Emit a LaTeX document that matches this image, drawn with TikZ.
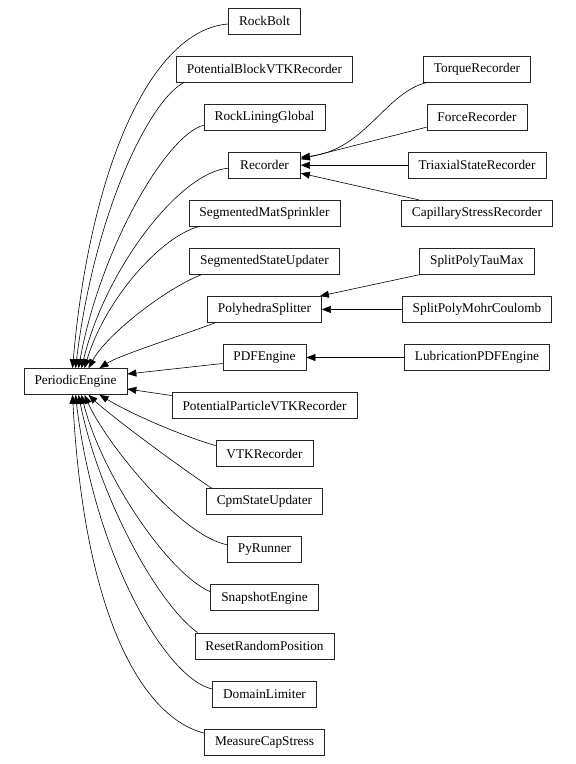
\documentclass[tikz,border=0pt]{standalone}
\usepackage{fontspec}
\setmainfont{Liberation Serif}
\usetikzlibrary{arrows.meta}
\begin{document}
\begin{tikzpicture}[x=1pt,y=-1pt,
  cls/.style={draw=black!85, line width=0.7pt, minimum height=26pt, minimum width=72pt,
              inner xsep=10.5pt, inner ysep=0pt, font=\fontsize{13.3}{15}\selectfont},
  edge/.style={draw, line width=0.6pt, -{Triangle[length=9pt,width=7pt]}}]
\useasboundingbox (0,0) rectangle (576,764);
% main column
\node[cls] (rb)    at (264.5,21)     {RockBolt};
\node[cls] (pbvtk) at (264.5,69.07)  {PotentialBlockVTKRecorder};
\node[cls] (rl)    at (264.5,117.14) {RockLiningGlobal};
\node[cls] (rec)   at (264.5,165.21) {Recorder};
\node[cls] (sm)    at (264.5,213.28) {SegmentedMatSprinkler};
\node[cls] (ss)    at (264.5,261.35) {SegmentedStateUpdater};
\node[cls] (ps)    at (264.5,309.42) {PolyhedraSplitter};
\node[cls] (pdf)   at (264.5,357.49) {PDFEngine};
\node[cls] (ppvtk) at (264.5,405.56) {PotentialParticleVTKRecorder};
\node[cls] (vtk)   at (264.5,453.63) {VTKRecorder};
\node[cls] (cpm)   at (264.5,501.7)  {CpmStateUpdater};
\node[cls] (py)    at (264.5,549.77) {PyRunner};
\node[cls] (snap)  at (264.5,597.84) {SnapshotEngine};
\node[cls] (reset) at (264.5,645.91) {ResetRandomPosition};
\node[cls] (dom)   at (264.5,693.98) {DomainLimiter};
\node[cls] (mcs)   at (264.5,742.05) {MeasureCapStress};
% root
\node[cls] (pe) at (75.5,381.5) {PeriodicEngine};
% right column
\node[cls] (tq)  at (477,69.07)  {TorqueRecorder};
\node[cls] (fr)  at (477,117.14) {ForceRecorder};
\node[cls] (tri) at (477,165.21) {TriaxialStateRecorder};
\node[cls] (cap) at (477,213.28) {CapillaryStressRecorder};
\node[cls] (tau) at (477,261.35) {SplitPolyTauMax};
\node[cls] (mc)  at (477,309.42) {SplitPolyMohrCoulomb};
\node[cls] (lub) at (477,357.49) {LubricationPDFEngine};
% edges to PeriodicEngine (upper)
\path[edge] ([yshift=-3pt]rb.west) .. controls +(-78,6) and +(17.5,-198.5) .. ([xshift=-3pt]pe.north);
\path[edge] ([xshift=8pt]pbvtk.south west) .. controls +(-34,17.4) and +(19.5,-158.5) .. (pe.north);
\path[edge] ([yshift=-8pt]rl.west) .. controls +(-38,10) and +(21.5,-118.5) .. ([xshift=3pt]pe.north);
\path[edge] ([yshift=-3pt]rec.west) .. controls +(-48.5,4) and +(23.5,-98.5) .. ([xshift=6pt]pe.north);
\path[edge] ([xshift=10pt]sm.south west) .. controls +(-38,10) and +(20.5,-68.5) .. ([xshift=9pt]pe.north);
\path[edge] ([xshift=12pt]ss.south west) .. controls +(-36,14) and +(18,-33.5) .. ([xshift=13pt]pe.north);
\path[edge] ([xshift=8pt]ps.south west) .. controls +(-34,13) and +(20,-13) .. ([xshift=24pt]pe.north);
\path[edge] ([yshift=-6pt]pdf.west) -- ([yshift=7.5pt]pe.east);
\path[edge] ([yshift=10pt]ppvtk.west) -- ([yshift=-7.5pt]pe.east);
% lower
\path[edge] ([yshift=8pt]vtk.west) .. controls +(-40,-12) and +(30,18) .. ([xshift=24pt]pe.south);
\path[edge] ([xshift=6pt]cpm.north west) .. controls +(-32,-21) and +(21.5,20.5) .. ([xshift=13pt]pe.south);
\path[edge] ([yshift=5pt]py.west) .. controls +(-48.5,-10) and +(20,45.5) .. ([xshift=9pt]pe.south);
\path[edge] ([yshift=6pt]snap.west) .. controls +(-45,-20) and +(18.5,75.5) .. ([xshift=6pt]pe.south);
\path[edge] ([xshift=3pt]reset.north west) .. controls +(-39,-28) and +(21.5,105.5) .. ([xshift=3pt]pe.south);
\path[edge] ([yshift=5pt]dom.west) .. controls +(-44,-9) and +(19.5,165.5) .. (pe.south);
\path[edge] ([yshift=9pt]mcs.west) .. controls +(-60,-15) and +(12,225.5) .. ([xshift=-3pt]pe.south);
% right side edges
\path[edge] ([xshift=4pt]tq.south west) .. controls +(-42,10) and +(64.5,-7) .. ([yshift=8pt]rec.east);
\path[edge] ([yshift=-10pt]fr.west) -- ([yshift=6pt]rec.east);
\path[edge] (tri.west) -- (rec.east);
\path[edge] ([xshift=18pt]cap.north west) -- ([yshift=-8pt]rec.east);
\path[edge] (tau.south west) -- ([xshift=-2pt]ps.north east);
\path[edge] (mc.west) -- (ps.east);
\path[edge] (lub.west) -- (pdf.east);
\end{tikzpicture}
\end{document}
